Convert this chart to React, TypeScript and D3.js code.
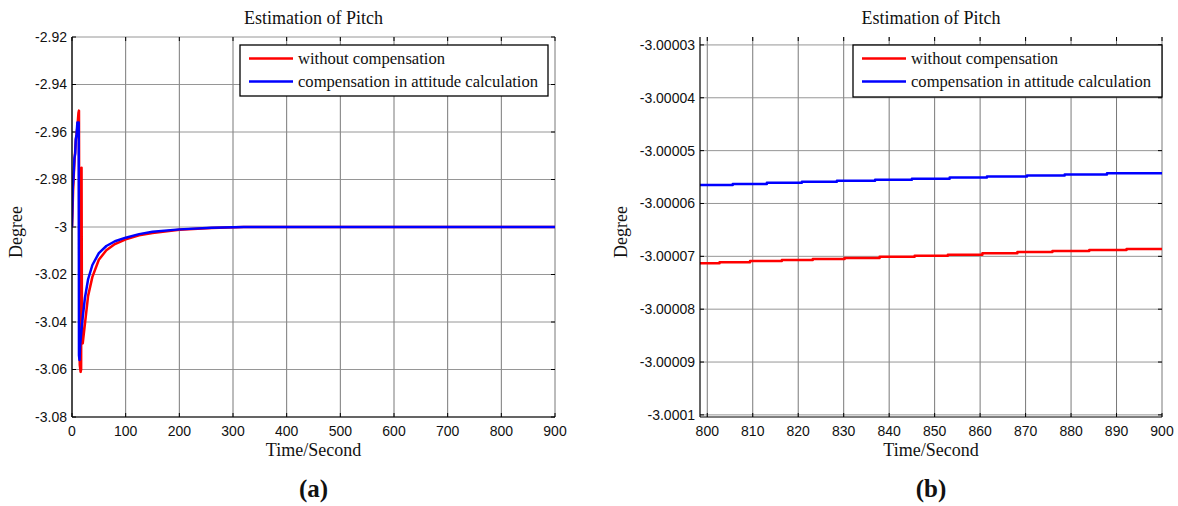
import React from "react";
import * as d3 from "d3";

// ---------- data ----------
const titleText = "Estimation of Pitch";
const xLabelText = "Time/Second";
const yLabelText = "Degree";
const legendLabels = ["without compensation", "compensation in attitude calculation"];
const seriesColors = ["#ff0000", "#0000ff"];

// panel (a)
const aXTicks = [0, 100, 200, 300, 400, 500, 600, 700, 800, 900];
const aYTicks = [-2.92, -2.94, -2.96, -2.98, -3, -3.02, -3.04, -3.06, -3.08];
const aYTickLabels = ["-2.92", "-2.94", "-2.96", "-2.98", "-3", "-3.02", "-3.04", "-3.06", "-3.08"];

const aRedTime = [0, 1, 2, 3, 4, 5, 6, 7, 8, 10, 12, 13, 13.8, 14.5, 16, 17, 17.8, 18.6, 20, 24, 30, 38, 50, 64, 80, 100, 125, 150, 200, 260, 320, 900];
const aRedValue = [-3.0, -2.993, -2.985, -2.98, -2.975, -2.971, -2.968, -2.964, -2.962, -2.958, -2.952, -2.951, -3.05, -3.058, -3.061, -3.06, -2.975, -3.047, -3.049, -3.041, -3.029, -3.021, -3.0138, -3.0098, -3.0072, -3.0052, -3.0035, -3.0025, -3.0012, -3.0004, -3.0, -3.0];

const aBlueTime = [0, 0.5, 1.5, 2.5, 3.5, 4.5, 6, 7, 8.5, 10, 11, 12.5, 13, 14, 15, 17, 20, 24, 30, 38, 50, 64, 80, 100, 125, 150, 200, 260, 320, 900];
const aBlueValue = [-3.0, -2.995, -2.983, -2.98, -2.976, -2.971, -2.969, -2.963, -2.961, -2.956, -2.957, -2.956, -3.054, -3.056, -3.05, -3.045, -3.038, -3.03, -3.022, -3.016, -3.011, -3.008, -3.006, -3.0045, -3.003, -3.002, -3.001, -3.0003, -3.0, -3.0];

// panel (b)
const bXTicks = [800, 810, 820, 830, 840, 850, 860, 870, 880, 890, 900];
const bYTicks = [-3.00003, -3.00004, -3.00005, -3.00006, -3.00007, -3.00008, -3.00009, -3.0001];
const bYTickLabels = ["-3.00003", "-3.00004", "-3.00005", "-3.00006", "-3.00007", "-3.00008", "-3.00009", "-3.0001"];

const bRedTime = [798.4, 802.7, 809.4, 816.4, 823.2, 830.2, 837.9, 845.6, 852.9, 860.5, 868.2, 875.9, 884.0, 892.2, 900];
const bRedValue = [-3.0000713, -3.0000711, -3.0000709, -3.0000707, -3.0000705, -3.0000703, -3.0000701, -3.0000699, -3.0000697, -3.0000694, -3.0000692, -3.000069, -3.0000688, -3.0000686, -3.0000686];

const bBlueTime = [798.4, 805.6, 813.1, 820.8, 828.5, 836.9, 845.0, 853.3, 861.5, 870.3, 878.6, 887.9, 900];
const bBlueValue = [-3.0000565, -3.0000563, -3.0000561, -3.0000559, -3.0000557, -3.0000555, -3.0000553, -3.0000551, -3.0000549, -3.0000547, -3.0000545, -3.0000543, -3.0000543];

// ---------- layout ----------
const SERIF = "'Liberation Serif', 'Times New Roman', serif";
const SANS = "'Liberation Sans', Arial, sans-serif";

type Panel = {
  id: string;
  left: number; right: number; top: number; bottom: number;
  xDomain: [number, number]; yDomain: [number, number];
  xTicks: number[]; yTicks: number[]; yTickLabels: string[];
  series: { t: number[]; v: number[]; color: string }[];
  step: boolean;
  legend: { x0: number; x1: number; y0: number; y1: number };
  letter: string;
  yLabelX: number;
};

const panels: Panel[] = [
  {
    id: "a", left: 72, right: 555, top: 37, bottom: 417,
    xDomain: [0, 900], yDomain: [-3.08, -2.92],
    xTicks: aXTicks, yTicks: aYTicks, yTickLabels: aYTickLabels,
    series: [
      { t: aRedTime, v: aRedValue, color: seriesColors[0] },
      { t: aBlueTime, v: aBlueValue, color: seriesColors[1] },
    ],
    step: false,
    legend: { x0: 240, x1: 548, y0: 45, y1: 96 },
    letter: "a",
    yLabelX: 22,
  },
  {
    id: "b", left: 700, right: 1162, top: 37, bottom: 417,
    xDomain: [798.4, 900], yDomain: [-3.0001004, -3.0000285],
    xTicks: bXTicks, yTicks: bYTicks, yTickLabels: bYTickLabels,
    series: [
      { t: bRedTime, v: bRedValue, color: seriesColors[0] },
      { t: bBlueTime, v: bBlueValue, color: seriesColors[1] },
    ],
    step: true,
    legend: { x0: 853, x1: 1162, y0: 45, y1: 97 },
    letter: "b",
    yLabelX: 627,
  },
];

function PanelView({ p }: { p: Panel }) {
  const x = d3.scaleLinear().domain(p.xDomain).range([p.left, p.right]);
  const y = d3.scaleLinear().domain(p.yDomain).range([p.bottom, p.top]);
  const line = d3
    .line<[number, number]>()
    .x((d) => x(d[0]))
    .y((d) => y(d[1]))
    .curve(p.step ? d3.curveStepAfter : d3.curveLinear);
  const cx = (p.left + p.right) / 2;
  const cy = (p.top + p.bottom) / 2;
  const tick = 4;
  const clipId = "clip-" + p.id;
  return (
    <g>
      <defs>
        <clipPath id={clipId}>
          <rect x={p.left} y={p.top} width={p.right - p.left} height={p.bottom - p.top} />
        </clipPath>
      </defs>
      <rect x={p.left} y={p.top} width={p.right - p.left} height={p.bottom - p.top} fill="#fff" />
      {/* grid */}
      {p.xTicks.map((t) => (
        <line key={"gx" + t} x1={x(t)} x2={x(t)} y1={p.top} y2={p.bottom} stroke="#6a6a6a" strokeWidth={0.9} />
      ))}
      {p.yTicks.map((t) => (
        <line key={"gy" + t} x1={p.left} x2={p.right} y1={y(t)} y2={y(t)} stroke="#8a8a8a" strokeWidth={0.9} />
      ))}
      {/* tick marks */}
      {p.xTicks.map((t) => (
        <g key={"tx" + t}>
          <line x1={x(t)} x2={x(t)} y1={p.bottom} y2={p.bottom - tick} stroke="#000" strokeWidth={1} />
          <line x1={x(t)} x2={x(t)} y1={p.top} y2={p.top + tick} stroke="#000" strokeWidth={1} />
        </g>
      ))}
      {p.yTicks.map((t) => (
        <g key={"ty" + t}>
          <line x1={p.left} x2={p.left + tick} y1={y(t)} y2={y(t)} stroke="#000" strokeWidth={1} />
          <line x1={p.right} x2={p.right - tick} y1={y(t)} y2={y(t)} stroke="#000" strokeWidth={1} />
        </g>
      ))}
      {/* data */}
      <g clipPath={`url(#${clipId})`}>
        {p.series.map((s, i) => (
          <path
            key={"s" + i}
            d={line(s.t.map((t, j) => [t, s.v[j]] as [number, number])) || ""}
            fill="none"
            stroke={s.color}
            strokeWidth={2.5}
            strokeLinejoin="round"
          />
        ))}
      </g>
      {/* axes box */}
      <line x1={p.left} x2={p.left} y1={p.top} y2={p.bottom} stroke="#000" strokeWidth={1.2} />
      <line x1={p.left} x2={p.right} y1={p.bottom} y2={p.bottom} stroke="#000" strokeWidth={1.2} />
      {/* tick labels */}
      {p.xTicks.map((t) => (
        <text key={"lx" + t} x={x(t)} y={p.bottom + 19} textAnchor="middle" fontFamily={SANS} fontSize={14} fill="#111">
          {t}
        </text>
      ))}
      {p.yTicks.map((t, i) => (
        <text key={"ly" + t} x={p.left - 5} y={y(t)} dy="0.35em" textAnchor="end" fontFamily={SANS} fontSize={14} fill="#111">
          {p.yTickLabels[i]}
        </text>
      ))}
      {/* legend */}
      <rect
        x={p.legend.x0}
        y={p.legend.y0}
        width={p.legend.x1 - p.legend.x0}
        height={p.legend.y1 - p.legend.y0}
        fill="#fff"
        stroke="#000"
        strokeWidth={1.3}
      />
      {legendLabels.map((lab, i) => {
        const ly = p.legend.y0 + 13.5 + i * 23;
        return (
          <g key={"lg" + i}>
            <line x1={p.legend.x0 + 9} x2={p.legend.x0 + 53} y1={ly} y2={ly} stroke={seriesColors[i]} strokeWidth={2.5} />
            <text x={p.legend.x0 + 58} y={ly} dy="0.33em" fontFamily={SERIF} fontSize={16.6} fill="#111">
              {lab}
            </text>
          </g>
        );
      })}
      {/* titles */}
      <text x={cx} y={24} textAnchor="middle" fontFamily={SERIF} fontSize={18} fill="#111">
        {titleText}
      </text>
      <text x={cx} y={456} textAnchor="middle" fontFamily={SERIF} fontSize={18} fill="#111">
        {xLabelText}
      </text>
      <text
        transform={`translate(${p.yLabelX},${cy + 5}) rotate(-90)`}
        textAnchor="middle"
        fontFamily={SERIF}
        fontSize={18}
        fill="#111"
      >
        {yLabelText}
      </text>
      <text x={cx} y={497} textAnchor="middle" fontFamily={SERIF} fontSize={25} fontWeight="bold" fill="#111">
        ({p.letter})
      </text>
    </g>
  );
}

export default function App() {
  return (
    <svg
      width={1178}
      height={506}
      viewBox="0 0 1178 506"
      style={{ position: "absolute", left: 0, top: 0, background: "#fff" }}
    >
      <rect x={0} y={0} width={1178} height={506} fill="#fff" />
      {panels.map((p) => (
        <PanelView key={p.id} p={p} />
      ))}
    </svg>
  );
}
